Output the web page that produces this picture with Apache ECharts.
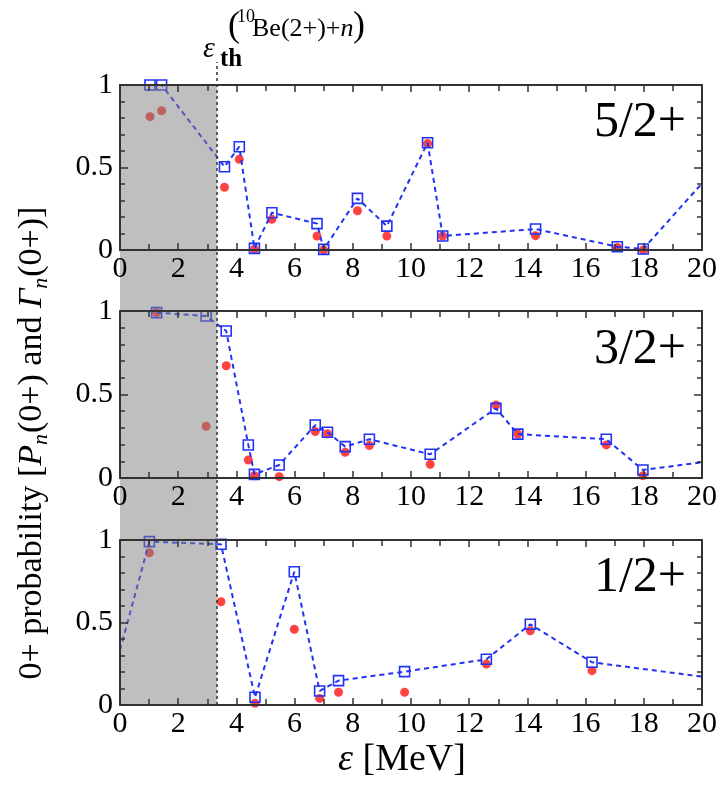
<!DOCTYPE html>
<html>
<head>
<meta charset="utf-8">
<script src="https://cdn.jsdelivr.net/npm/echarts@6/dist/echarts.min.js"></script>
<style>
  html, body { margin: 0; padding: 0; background: #fff; }
  #chart { width: 721px; height: 795px; }
</style>
</head>
<body>
<div id="chart"></div>
<script>
// ---- data -------------------------------------------------------------
// threshold energy of the 10Be(2+)+n channel [MeV]
const EPS_TH = 3.33;

// x ticks [MeV] and y ticks
const X_MIN = 0, X_MAX = 20, X_STEP = 2;
const Y_MIN = 0, Y_MAX = 1, Y_STEP = 0.5;

// 5/2+ states
const energy52 = [1.03, 1.43, 3.59, 4.10, 4.62, 5.22, 6.77, 7.00, 8.16, 9.17, 10.57, 11.09, 14.28, 17.09, 17.98];
const prob52   = [1.00, 1.00, 0.505, 0.626, 0.010, 0.226, 0.160, 0.004, 0.313, 0.145, 0.650, 0.085, 0.127, 0.020, 0.006];
const width52  = [0.808, 0.844, 0.380, 0.550, 0.005, 0.186, 0.085, 0.000, 0.238, 0.085, 0.645, 0.085, 0.087, 0.015, 0.000];
const tail52   = [20, 0.404];

// 3/2+ states
const energy32 = [1.26, 2.96, 3.65, 4.41, 4.62, 5.47, 6.71, 7.13, 7.74, 8.57, 10.66, 12.92, 13.67, 16.71, 17.97];
const prob32   = [0.99, 0.97, 0.88, 0.198, 0.022, 0.078, 0.317, 0.274, 0.188, 0.232, 0.142, 0.417, 0.263, 0.232, 0.048];
const width32  = [0.99, 0.31, 0.672, 0.108, 0.014, 0.008, 0.278, 0.265, 0.154, 0.194, 0.082, 0.437, 0.263, 0.198, 0.014];
const tail32   = [20, 0.094];

// 1/2+ states
const head12   = [0, 0.333];
const energy12 = [1.01, 3.47, 4.64, 5.99, 6.86, 7.51, 9.78, 12.59, 14.10, 16.22];
const prob12   = [0.99, 0.974, 0.047, 0.808, 0.085, 0.148, 0.202, 0.277, 0.489, 0.259];
const width12  = [0.923, 0.626, 0.010, 0.459, 0.040, 0.077, 0.077, 0.248, 0.450, 0.208];
const tail12   = [20, 0.172];

const panelLabels = ['5/2+', '3/2+', '1/2+'];

// ---- styling ----------------------------------------------------------
const SERIF = 'Liberation Serif';
const BLUE = '#2232f5';
const RED = '#ff1414';
const FRAME = '#333';

const gridLeft = 120, gridWidth = 582;
const panels = [
  { top: 85,  height: 165, label: panelLabels[0], labelY: 123,
    pts: energy52.map((e, i) => [e, prob52[i]]), red: energy52.map((e, i) => [e, width52[i]]),
    head: null, tail: tail52 },
  { top: 311, height: 167, label: panelLabels[1], labelY: 350,
    pts: energy32.map((e, i) => [e, prob32[i]]), red: energy32.map((e, i) => [e, width32[i]]),
    head: null, tail: tail32 },
  { top: 540, height: 165, label: panelLabels[2], labelY: 578,
    pts: energy12.map((e, i) => [e, prob12[i]]), red: energy12.map((e, i) => [e, width12[i]]),
    head: head12, tail: tail12 }
];

const grids = [], xAxes = [], yAxes = [], series = [], graphics = [];

function xAxisDef(gridIndex, position, labels) {
  return {
    type: 'value', gridIndex, position, min: X_MIN, max: X_MAX, interval: X_STEP, z: 10,
    axisLine: { show: true, onZero: false, lineStyle: { color: FRAME, width: 2 } },
    axisTick: { show: true, inside: true, length: 7, lineStyle: { color: FRAME, width: 1.5 } },
    minorTick: { show: true, splitNumber: 2, length: 6, lineStyle: { color: FRAME, width: 1.5 } },
    splitLine: { show: false },
    axisLabel: { show: labels, margin: 4, showMinLabel: true, showMaxLabel: true, hideOverlap: false,
                 fontFamily: SERIF, fontSize: 30, color: '#000' }
  };
}
function yAxisDef(gridIndex, position, labels) {
  return {
    type: 'value', gridIndex, position, min: Y_MIN, max: Y_MAX, interval: Y_STEP, z: 10,
    axisLine: { show: true, onZero: false, lineStyle: { color: FRAME, width: 2 } },
    axisTick: { show: true, inside: true, length: 8, lineStyle: { color: FRAME, width: 1.5 } },
    minorTick: { show: true, splitNumber: 5, length: 5, lineStyle: { color: FRAME, width: 1.5 } },
    splitLine: { show: false },
    axisLabel: { show: labels, margin: 7, showMinLabel: true, showMaxLabel: true, hideOverlap: false,
                 fontFamily: SERIF, fontSize: 30, color: '#000' }
  };
}

panels.forEach((p) => {
  grids.push({ left: gridLeft, width: gridWidth, top: p.top, height: p.height });
});
// bottom/left axes with labels: indices 0..2; mirrored top/right axes: 3..5
panels.forEach((p, i) => { xAxes.push(xAxisDef(i, 'bottom', true)); yAxes.push(yAxisDef(i, 'left', true)); });
panels.forEach((p, i) => { xAxes.push(xAxisDef(i, 'top', false)); yAxes.push(yAxisDef(i, 'right', false)); });

// full-height grid for the shaded sub-threshold band (index 3 / axes 6)
grids.push({ left: gridLeft, width: gridWidth, top: 85, height: 620 });
xAxes.push({ type: 'value', gridIndex: 3, min: X_MIN, max: X_MAX, show: false });
yAxes.push({ type: 'value', gridIndex: 3, min: Y_MIN, max: Y_MAX, show: false });
// taller grid for the dashed threshold line (index 4 / axes 7)
grids.push({ left: gridLeft, width: gridWidth, top: 62, height: 643 });
xAxes.push({ type: 'value', gridIndex: 4, min: X_MIN, max: X_MAX, show: false });
yAxes.push({ type: 'value', gridIndex: 4, min: Y_MIN, max: Y_MAX, show: false });

panels.forEach((p, i) => {
  // red circles: widths
  series.push({
    type: 'scatter', xAxisIndex: i, yAxisIndex: i, z: 2, clip: false,
    symbol: 'circle', symbolSize: 9,
    itemStyle: { color: RED },
    data: p.red
  });
  // blue open squares joined by a dashed line: probabilities
  const data = [];
  if (p.head) data.push({ value: p.head, symbol: 'none' });
  p.pts.forEach(v => data.push(v));
  if (p.tail) data.push({ value: p.tail, symbol: 'none' });
  series.push({
    type: 'line', xAxisIndex: i, yAxisIndex: i, z: 3, clip: false,
    symbol: 'rect', symbolSize: 10, showAllSymbol: true,
    lineStyle: { color: BLUE, width: 2, type: [5, 4] },
    itemStyle: { color: 'rgba(0,0,0,0)', borderColor: BLUE, borderWidth: 1.6 },
    data
  });
  graphics.push({
    type: 'text', x: 686, y: p.labelY, z: 20,
    style: { text: p.label, fontFamily: SERIF, fontSize: 50, fill: '#000', align: 'right', verticalAlign: 'middle' }
  });
});

// shaded band below threshold, laid over the marks
series.push({
  type: 'line', xAxisIndex: 6, yAxisIndex: 6, z: 4, symbol: 'none', silent: true,
  lineStyle: { opacity: 0 }, data: [[EPS_TH, 0]],
  markArea: { z: 4, silent: true, itemStyle: { color: 'rgba(128,128,128,0.5)' },
              data: [[{ xAxis: X_MIN }, { xAxis: EPS_TH }]] }
});
// dashed threshold line
series.push({
  type: 'line', xAxisIndex: 7, yAxisIndex: 7, z: 5, symbol: 'none', silent: true,
  lineStyle: { opacity: 0 }, data: [[EPS_TH, 0]],
  markLine: { z: 5, silent: true, symbol: 'none', label: { show: false },
              lineStyle: { color: '#333', width: 1.5, type: [3, 3] },
              data: [{ xAxis: EPS_TH }] }
});

// threshold label: epsilon_th^(10Be(2+)+n)
function txt(x, y, text, size, extra) {
  return { type: 'text', x, y, style: Object.assign({ text, fontFamily: SERIF, fontSize: size, fill: '#000', verticalAlign: 'bottom' }, extra || {}) };
}
graphics.push(
  txt(203, 64, 'ε', 30, { fontStyle: 'italic' }),
  txt(220, 72, 'th', 25, { fontWeight: 'bold' }),
  txt(228, 45, '(', 36),
  txt(237, 26, '10', 18),
  { type: 'text', x: 252, y: 42, style: { text: '{r|Be(2+)+}{i|n}', verticalAlign: 'bottom',
      rich: { r: { fontFamily: SERIF, fontSize: 26, color: '#000' }, i: { fontFamily: SERIF, fontStyle: 'italic', fontSize: 26, color: '#222' } } } },
  txt(353, 45, ')', 36)
);

// x axis title
graphics.push({
  type: 'text', x: 402, y: 760,
  style: {
    text: '{i|ε}{r| [MeV]}', align: 'center', verticalAlign: 'middle',
    rich: { i: { fontFamily: SERIF, fontStyle: 'italic', fontSize: 38, color: '#000' },
            r: { fontFamily: SERIF, fontSize: 38, color: '#000' } }
  }
});

// y axis title
graphics.push({
  type: 'text', x: 32, y: 443, rotation: Math.PI / 2,
  style: {
    text: '{r|0+ probability [}{i|P}{s|n}{r|(0+) and }{i|Γ}{s|n}{r|(0+)]}',
    align: 'center', verticalAlign: 'middle',
    rich: {
      r: { fontFamily: SERIF, fontSize: 34, color: '#000', lineHeight: 40 },
      i: { fontFamily: SERIF, fontStyle: 'italic', fontSize: 34, color: '#000', lineHeight: 40 },
      s: { fontFamily: SERIF, fontStyle: 'italic', fontSize: 22, color: '#000', lineHeight: 40, verticalAlign: 'bottom', padding: [0, 1, 0, 0] }
    }
  }
});

const chart = echarts.init(document.getElementById('chart'), null, { renderer: 'canvas' });
chart.setOption({
  animation: false,
  backgroundColor: '#fff',
  textStyle: { fontFamily: SERIF },
  grid: grids,
  xAxis: xAxes,
  yAxis: yAxes,
  series,
  graphic: graphics
});
</script>
</body>
</html>
